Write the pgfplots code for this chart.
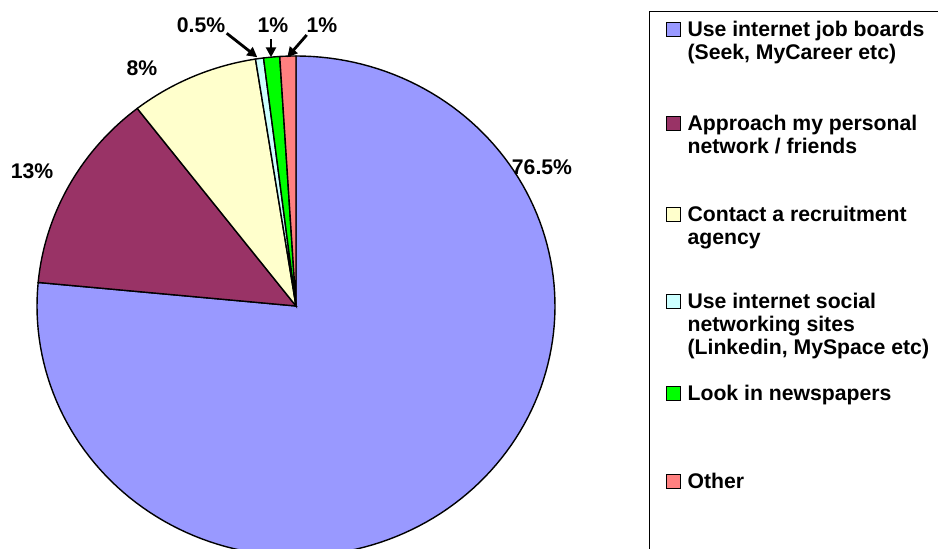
\documentclass[border=0pt]{standalone}
\usepackage{pgfplots}
\pgfplotsset{compat=1.18}
\usepackage{fontspec}
\setmainfont{Liberation Sans}
\usetikzlibrary{arrows.meta}
\definecolor{cA}{HTML}{9999FF}
\definecolor{cB}{HTML}{993366}
\definecolor{cC}{HTML}{FFFFCC}
\definecolor{cD}{HTML}{CCFFFF}
\definecolor{cE}{HTML}{00FF00}
\definecolor{cF}{HTML}{FF8080}
\newcommand{\lbl}{\fontsize{10.6}{11.5}\selectfont\bfseries}
\newcommand{\entry}[2]{\parbox[t][#1][t]{150pt}{\lbl #2}}
\begin{document}
\begin{tikzpicture}
\begin{axis}[name=ax, hide axis, scale only axis, width=469pt, height=274.5pt,
  xmin=0, xmax=938, ymin=-549, ymax=0, clip=false,
  legend image code/.code={\draw[#1, line width=0.5pt] (0pt,0pt) rectangle (7pt,7pt);},
  legend style={at={(0.6919,0.97996)}, anchor=north west, draw=black, line width=0.6pt,
    inner xsep=8pt, inner ysep=5pt, column sep=3.5pt, row sep=0pt,
    nodes={text depth=, text height=, inner sep=0pt},
    cells={anchor=base west, inner sep=0pt}, fill=white},
  pie/.style={draw=black, line width=0.7pt, samples=150},
]
% shares (percent), clockwise from 12 o'clock: 76.5, 13, 8, 0.5, 1, 1
\addplot[pie, fill=cA, domain=0:76.5] ({296+259*sin(3.6*x)}, {-306+250*cos(3.6*x)}) -- (axis cs:296,-306) -- cycle;
\addlegendentry{\entry{47pt}{Use internet job boards\\(Seek, MyCareer etc)}}
\addplot[pie, fill=cB, domain=76.5:89.5] ({296+259*sin(3.6*x)}, {-306+250*cos(3.6*x)}) -- (axis cs:296,-306) -- cycle;
\addlegendentry{\entry{45.5pt}{Approach my personal\\network / friends}}
\addplot[pie, fill=cC, domain=89.5:97.5] ({296+259*sin(3.6*x)}, {-306+250*cos(3.6*x)}) -- (axis cs:296,-306) -- cycle;
\addlegendentry{\entry{43.5pt}{Contact a recruitment\\agency}}
\addplot[pie, fill=cD, domain=97.5:98] ({296+259*sin(3.6*x)}, {-306+250*cos(3.6*x)}) -- (axis cs:296,-306) -- cycle;
\addlegendentry{\entry{46pt}{Use internet social\\networking sites\\(Linkedin, MySpace etc)}}
\addplot[pie, fill=cE, domain=98:99] ({296+259*sin(3.6*x)}, {-306+250*cos(3.6*x)}) -- (axis cs:296,-306) -- cycle;
\addlegendentry{\entry{44pt}{Look in newspapers}}
\addplot[pie, fill=cF, domain=99:100] ({296+259*sin(3.6*x)}, {-306+250*cos(3.6*x)}) -- (axis cs:296,-306) -- cycle;
\addlegendentry{\entry{45pt}{Other}}
\node[font=\lbl] at (axis cs:542,-167) {76.5\%};
\node[font=\lbl] at (axis cs:32,-171) {13\%};
\node[font=\lbl] at (axis cs:142,-68) {8\%};
\node[font=\lbl] at (axis cs:201,-25) {0.5\%};
\node[font=\lbl] at (axis cs:273,-25) {1\%};
\node[font=\lbl] at (axis cs:322,-25) {1\%};
\draw[line width=1.4pt, -{Triangle[length=5pt,width=5pt]}] (axis cs:226.7,-33.3) -- (axis cs:257.3,-57.3);
\draw[line width=1.4pt, -{Triangle[length=5pt,width=5pt]}] (axis cs:271,-39.3) -- (axis cs:271,-57.3);
\draw[line width=1.4pt, -{Triangle[length=5pt,width=5pt]}] (axis cs:306.7,-35) -- (axis cs:287.3,-57.3);
\end{axis}
\pgfresetboundingbox
\path[use as bounding box] (ax.south west) rectangle (ax.north east);
\end{tikzpicture}
\end{document}
